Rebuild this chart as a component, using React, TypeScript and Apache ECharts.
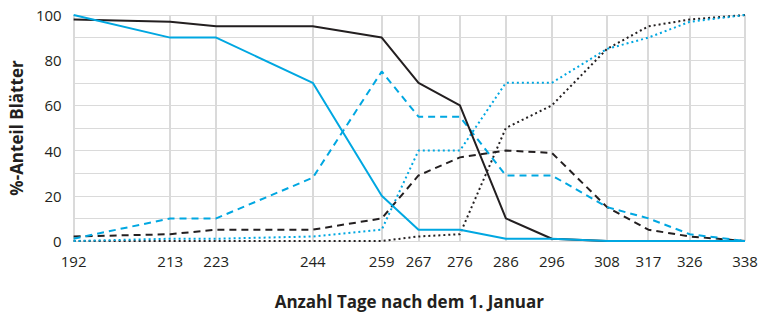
import React, { useEffect, useRef } from "react";
import * as echarts from "echarts";

const days = [192, 213, 223, 244, 259, 267, 276, 286, 296, 308, 317, 326, 338];
const blackSolid = [98, 97, 95, 95, 90, 70, 60, 10, 1, 0, 0, 0, 0];
const blueSolid = [100, 90, 90, 70, 20, 5, 5, 1, 1, 0, 0, 0, 0];
const blueDashed = [1, 10, 10, 28, 75, 55, 55, 29, 29, 15, 10, 3, 0];
const blackDashed = [2, 3, 5, 5, 10, 29, 37, 40, 39, 15, 5, 2, 0];
const blueDotted = [0, 1, 1, 2, 5, 40, 40, 70, 70, 85, 90, 97, 100];
const blackDotted = [0, 0, 0, 0, 0, 2, 3, 50, 60, 85, 95, 98, 100];
const yTickLabels = [0, 20, 40, 60, 80, 100];
const yRange = [0, 100];

const BLACK = "#231f20";
const BLUE = "#00a7e1";
const GRID = "#dadada";
const FONT = "Open Sans";

function pairs(vals: number[]) {
  return days.map((d, i) => [d, vals[i]]);
}

export default function App() {
  const ref = useRef<HTMLDivElement>(null);
  useEffect(() => {
    if (!ref.current) return;
    const chart = echarts.init(ref.current, undefined, { renderer: "svg" });
    const mk = (name: string, vals: number[], color: string, type: any, z: number) => ({
      name,
      type: "line",
      data: pairs(vals),
      symbol: "none",
      z,
      lineStyle: { color, width: 2, type },
    });
    chart.setOption({
      animation: false,
      backgroundColor: "#ffffff",
      grid: { left: 72, right: 16, top: 15, bottom: 73 },
      xAxis: {
        type: "value",
        min: 192,
        max: 338,
        name: "Anzahl Tage nach dem 1. Januar",
        nameLocation: "middle",
        nameGap: 52,
        nameTextStyle: { fontFamily: FONT, fontWeight: "bold", fontSize: 17, color: BLACK },
        axisLine: { show: false },
        axisTick: { show: false, customValues: days },
        axisLabel: {
          customValues: days,
          fontFamily: FONT,
          fontSize: 15,
          color: BLACK,
          margin: 12,
        },
        splitLine: { show: false },
      },
      yAxis: {
        type: "value",
        min: 0,
        max: 100,
        interval: 10,
        name: "%-Anteil Blätter",
        nameLocation: "middle",
        nameGap: 48,
        nameTextStyle: { fontFamily: FONT, fontWeight: "bold", fontSize: 17, color: BLACK },
        axisLine: { show: false },
        axisTick: { show: false },
        axisLabel: {
          fontFamily: FONT,
          fontSize: 15,
          color: BLACK,
          margin: 12,
          formatter: (v: number) => (yTickLabels.includes(v) ? String(v) : ""),
        },
        splitLine: { show: true, lineStyle: { color: GRID, width: 1 } },
      },
      series: [
        {
          name: "vgrid",
          type: "custom",
          silent: true,
          clip: false,
          z: 1,
          data: days.map((d) => [d, yRange[0], yRange[1]]),
          encode: { x: 0, y: [1, 2] },
          renderItem: (params: any, api: any) => {
            const d = api.value(0);
            const top = api.coord([d, api.value(2)]);
            const bot = api.coord([d, api.value(1)]);
            return {
              type: "rect",
              shape: {
                x: Math.round(top[0]) - 1,
                y: Math.round(top[1]),
                width: 2,
                height: Math.round(bot[1] - top[1]),
              },
              style: { fill: GRID, stroke: "none" },
            };
          },
        },
        mk("blackDotted", blackDotted, BLACK, [2, 3], 2),
        mk("blueDotted", blueDotted, BLUE, [2, 3], 2),
        mk("blackDashed", blackDashed, BLACK, [7, 5], 3),
        mk("blueDashed", blueDashed, BLUE, [7, 5], 3),
        mk("blackSolid", blackSolid, BLACK, "solid", 4),
        mk("blueSolid", blueSolid, BLUE, "solid", 4),
      ],
    });
    return () => chart.dispose();
  }, []);
  return (
    <div
      ref={ref}
      style={{ position: "fixed", left: 0, top: 0, width: 761, height: 315, background: "#fff" }}
    />
  );
}
